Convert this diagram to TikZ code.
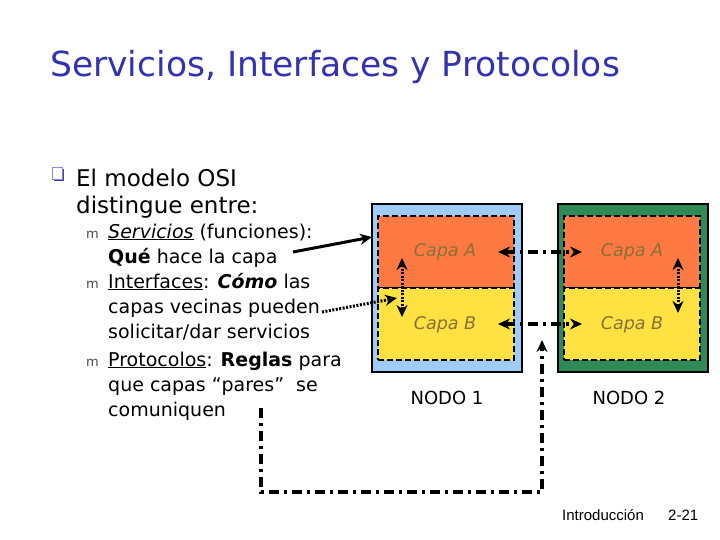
\documentclass[tikz,border=0pt]{standalone}
\usepackage{fontspec}
\setmainfont{DejaVu Sans}
\newfontfamily\footfont{Liberation Sans}
\usetikzlibrary{arrows.meta}
\definecolor{titleblue}{RGB}{51,51,178}
\definecolor{nodeblue}{RGB}{160,204,250}
\definecolor{nodegreen}{RGB}{46,139,87}
\definecolor{layerorange}{RGB}{255,122,66}
\definecolor{layeryellow}{RGB}{255,226,66}
\definecolor{capatext}{RGB}{135,112,55}
\definecolor{bulletblue}{RGB}{60,60,170}
\tikzset{
  outerbox/.style={draw=black, line width=2.5pt, minimum width=150pt, minimum height=168pt, inner sep=0pt},
  layerbox/.style={draw=black, dash pattern=on 6pt off 3pt, line width=2pt, minimum width=136pt, minimum height=72pt, inner sep=0pt},
  capalabel/.style={text=capatext, font=\fontsize{17.5}{20}\selectfont\itshape, inner sep=0pt},
  nodolabel/.style={font=\fontsize{18}{20}\selectfont, inner sep=0pt},
  bodyline/.style={anchor=base west, inner sep=0pt, font=\fontsize{19}{22}\selectfont},
  mainline/.style={anchor=base west, inner sep=0pt, font=\fontsize{23}{26}\selectfont},
  subbullet/.style={anchor=base west, inner sep=0pt, text=black!70, font=\fontsize{13}{15}\selectfont},
  dashdot/.style={line width=3.5pt, dash pattern=on 10pt off 5pt on 3pt off 5pt},
  dotline/.style={line width=3pt, dash pattern=on 2pt off 1.5pt},
  tip/.style={-{Stealth[length=12pt,width=11pt]}},
  tips/.style={{Stealth[length=12pt,width=11pt]}-{Stealth[length=12pt,width=11pt]}}
}
\begin{document}
\begin{tikzpicture}[x=1pt,y=-1pt]
\useasboundingbox (0,0) rectangle (720,540);
\fill[white] (0,0) rectangle (720,540);

% title
\node[anchor=base west, inner sep=0pt, text=titleblue, font=\fontsize{34.5}{40}\selectfont] (title) at (50,77) {Servicios, Interfaces y Protocolos};

% main bullet
\fill[bulletblue] (54,169) rectangle (64,181);
\filldraw[fill=white, draw=bulletblue!60, line width=0.8pt] (52,167) rectangle (62,179);
\node[mainline] (l1) at (76,187) {El modelo OSI};
\node[mainline] (l2) at (76,214) {distingue entre:};

% sub bullets
\node[subbullet] (m1) at (86,238) {m};
\node[subbullet] (m2) at (86,288) {m};
\node[subbullet] (m3) at (86,366) {m};

\node[bodyline] (s1) at (108,238) {\underline{\itshape Servicios} (funciones):};
\node[bodyline] (s2) at (108,263) {\textbf{Qué} hace la capa};
\node[bodyline] (s3) at (108,288) {\underline{Interfaces}: \textbf{\itshape Cómo} las};
\node[bodyline] (s4) at (108,313) {capas vecinas pueden};
\node[bodyline] (s5) at (108,338) {solicitar/dar servicios};
\node[bodyline] (s6) at (108,366) {\underline{Protocolos}: \textbf{Reglas} para};
\node[bodyline] (s7) at (108,391) {que capas “pares”\ \ se};
\node[bodyline] (s8) at (108,416) {comuniquen};

% node 1
\node[outerbox, fill=nodeblue] (N1) at (447,288) {};
\node[layerbox, fill=layerorange] (L1A) at (446,252) {};
\node[layerbox, fill=layeryellow] (L1B) at (446,324) {};
\node[capalabel] (t1A) at (445,252) {Capa A};
\node[capalabel] (t1B) at (445,325) {Capa B};
\node[nodolabel] (n1) at (447,398) {NODO 1};

% node 2
\node[outerbox, fill=nodegreen] (N2) at (633,288) {};
\node[layerbox, fill=layerorange] (L2A) at (632,252) {};
\node[layerbox, fill=layeryellow] (L2B) at (632,324) {};
\node[capalabel] (t2A) at (632,252) {Capa A};
\node[capalabel] (t2B) at (632,325) {Capa B};
\node[nodolabel] (n2) at (629,398) {NODO 2};

% connector end points
\coordinate (hA1) at (498,252);
\coordinate (hA2) at (582,252);
\coordinate (hB1) at (498,324);
\coordinate (hB2) at (582,324);
\coordinate (v1t) at (402,258);
\coordinate (v1b) at (402,317);
\coordinate (v2t) at (678,258);
\coordinate (v2b) at (678,313);
\coordinate (sv0) at (293,252);
\coordinate (sv1) at (372,237);
\coordinate (if0) at (322,312);
\coordinate (if1) at (397,298);
\coordinate (p0) at (261,408);
\coordinate (p1) at (542,340);

% peer protocol arrows
\draw[dashdot, tips] (hA1) -- (hA2);
\draw[dashdot, tips] (hB1) -- (hB2);
% interface arrows
\draw[dotline, tips] (v1t) -- (v1b);
\draw[dotline, tips] (v2t) -- (v2b);
% pointers from text
\draw[line width=3pt, tip] (sv0) -- (sv1);
\draw[dotline, tip] (if0) -- (if1);
\draw[dashdot, tip] (p0) |- (542,492) -- (p1);

% footer
\node[anchor=base west, inner sep=0pt, font=\footfont\fontsize{15}{17}\selectfont] (foot) at (562,520) {Introducción};
\node[anchor=base west, inner sep=0pt, font=\footfont\fontsize{15}{17}\selectfont] (page) at (668,520) {2-21};
\end{tikzpicture}
\end{document}
